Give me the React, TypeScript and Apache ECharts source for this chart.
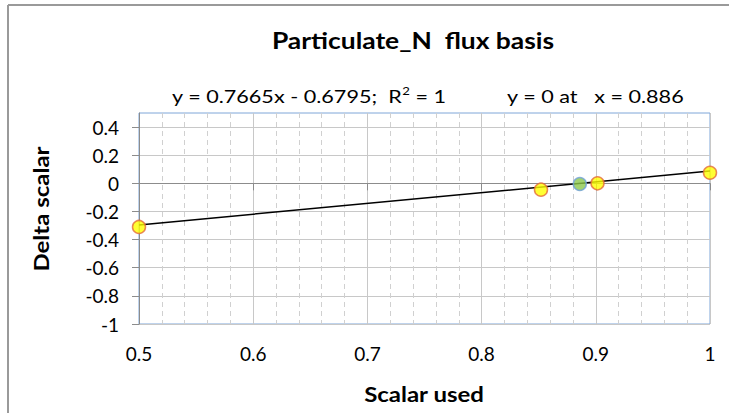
import React, { useEffect, useRef } from "react";
import * as echarts from "echarts";

const titleText = "Particulate_N  flux basis";
const xAxisTitle = "Scalar used";
const yAxisTitle = "Delta scalar";
const yTickValues = [-1, -0.8, -0.6, -0.4, -0.2, 0, 0.2, 0.4];

// measured points (yellow)
const scalarUsed = [0.5, 0.852, 0.9015, 1.0];
const deltaScalar = [-0.31, -0.045, 0.0, 0.075];

// zero-crossing point (green)
const zeroX = [0.886];
const zeroY = [-0.005];

// linear trend line end points
const trendX = [0.5, 1.0];
const trendY = [-0.296, 0.087];

const FONT = "Lato, 'Open Sans', sans-serif";

export default function App() {
  const ref = useRef<HTMLDivElement>(null);
  useEffect(() => {
    if (!ref.current) return;
    const chart = echarts.init(ref.current, null, { renderer: "svg" });
    const yellowData = scalarUsed.map((x, i) => [x, deltaScalar[i]]);
    const greenData = zeroX.map((x, i) => [x, zeroY[i]]);
    const trendData = trendX.map((x, i) => [x, trendY[i]]);
    chart.setOption({
      animation: false,
      backgroundColor: "#ffffff",
      textStyle: { fontFamily: FONT },
      graphic: [
        { type: "line", shape: { x1: 8, y1: 5, x2: 729, y2: 5 }, style: { stroke: "#9a9a9a", lineWidth: 2 } },
        { type: "line", shape: { x1: 8, y1: 5, x2: 8, y2: 413 }, style: { stroke: "#9a9a9a", lineWidth: 2 } },
        {
          type: "text",
          x: 413,
          y: 40,
          scaleX: 1.2,
          style: {
            text: titleText,
            fontFamily: FONT,
            fontSize: 22,
            fontWeight: "bold",
            fill: "#000",
            align: "center",
            verticalAlign: "middle",
          },
        },
        {
          type: "text",
          x: 172,
          y: 96,
          scaleX: 1.2,
          style: {
            text: "{a|y = 0.7665x - 0.6795;  R}{s|2}{a| = 1}",
            verticalAlign: "middle",
            rich: {
              a: { fontFamily: FONT, fontSize: 18, fill: "#000", lineHeight: 22 },
              s: { fontFamily: FONT, fontSize: 11, fill: "#000", verticalAlign: "top", lineHeight: 14, padding: [0, 0, 8, 0] },
            },
          },
        },
        {
          type: "text",
          x: 507,
          y: 96,
          scaleX: 1.2,
          style: {
            text: "y = 0 at   x = 0.886",
            fontFamily: FONT,
            fontSize: 18,
            fill: "#000",
            verticalAlign: "middle",
          },
        },
        {
          type: "text",
          x: 424,
          y: 394,
          scaleX: 1.2,
          style: {
            text: xAxisTitle,
            fontFamily: FONT,
            fontSize: 20,
            fontWeight: "bold",
            fill: "#000",
            align: "center",
            verticalAlign: "middle",
          },
        },
        {
          type: "text",
          x: 41,
          y: 209,
          scaleX: 1.2,
          rotation: Math.PI / 2,
          style: {
            text: yAxisTitle,
            fontFamily: FONT,
            fontSize: 20,
            fontWeight: "bold",
            fill: "#000",
            align: "center",
            verticalAlign: "middle",
          },
        },
      ],
      grid: {
        left: 139,
        right: 19,
        top: 113,
        bottom: 89,
        show: true,
        borderColor: "#7ea6d8",
        borderWidth: 1,
        backgroundColor: "transparent",
      },
      xAxis: {
        type: "value",
        min: 0.5,
        max: 1,
        interval: 0.1,
        axisLine: { show: true, lineStyle: { color: "#8c8c8c", width: 1 } },
        axisTick: { show: true, length: 7, inside: false, lineStyle: { color: "#8c8c8c" } },
        axisLabel: {
          fontFamily: FONT,
          fontSize: 19,
          color: "#000",
          margin: 20,
          formatter: (v: number) => String(Math.round(v * 10) / 10),
        },
        splitLine: { show: true, lineStyle: { color: "#c8c8c8", width: 1 } },
        minorTick: { show: false, splitNumber: 5 },
        minorSplitLine: { show: true, lineStyle: { color: "#d0d0d0", type: [5, 4], width: 1 } },
      },
      yAxis: {
        type: "value",
        min: -1,
        max: 0.5,
        interval: 0.2,
        axisLine: { show: true, lineStyle: { color: "#8c8c8c", width: 1 } },
        axisTick: { show: true, length: 7, inside: false, lineStyle: { color: "#8c8c8c" }, customValues: yTickValues },
        axisLabel: {
          fontFamily: FONT,
          fontSize: 19,
          color: "#000",
          margin: 20,
          customValues: yTickValues,
          formatter: (v: number) => String(Math.round(v * 10) / 10),
        },
        splitLine: { show: true, lineStyle: { color: "#c8c8c8", width: 1 } },
      },
      series: [
        {
          type: "line",
          data: trendData,
          symbol: "none",
          lineStyle: { color: "#000", width: 1.5 },
          z: 2,
        },
        {
          type: "scatter",
          data: yellowData,
          symbol: "circle",
          symbolSize: 13,
          itemStyle: { color: "#ffff00", borderColor: "#e46c3a", borderWidth: 1.5 },
          z: 3,
        },
        {
          type: "scatter",
          data: greenData,
          symbol: "circle",
          symbolSize: 13,
          itemStyle: { color: "#8cc84b", borderColor: "#6fa0d8", borderWidth: 1.5 },
          z: 3,
        },
      ],
    });
    return () => chart.dispose();
  }, []);
  return (
    <div
      ref={ref}
      style={{ position: "fixed", left: 0, top: 0, width: 729, height: 413, background: "#fff" }}
    />
  );
}
